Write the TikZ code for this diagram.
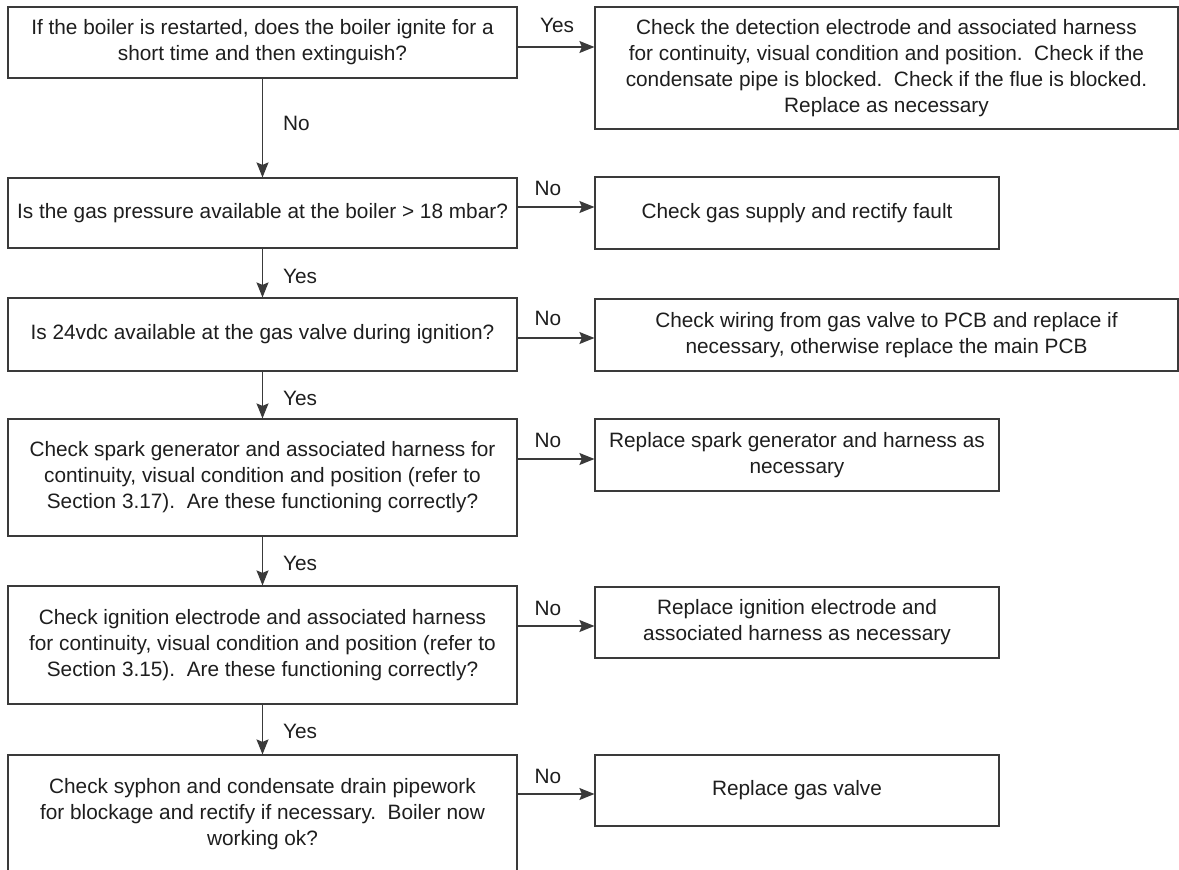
\documentclass[tikz,border=0pt]{standalone}
\usepackage{fontspec}
\setmainfont{Liberation Sans}
\usetikzlibrary{arrows.meta}
\definecolor{linec}{HTML}{3A3A3A}
\definecolor{textc}{HTML}{1E1E1E}
\begin{document}
\begin{tikzpicture}[x=1pt,y=-1pt,
  box/.style={draw=linec, line width=1.2pt, align=center, inner sep=0pt,
    font=\fontsize{20.8}{26}\selectfont, text=textc},
  lbl/.style={inner sep=0pt, font=\fontsize{20.8}{26}\selectfont, text=textc},
  arr/.style={draw=linec, line width=1.2pt, -{Stealth[length=15pt,width=12pt,inset=2.5pt]}}]
\clip (0,0) rectangle (1179,870);
\fill[white] (0,0) rectangle (1179,870);
% left column
\node[box, minimum width=509pt, minimum height=71pt] (q1) at (262.5,42.5)
  {If the boiler is restarted, does the boiler ignite for a\\short time and then extinguish?};
\node[box, minimum width=509pt, minimum height=70pt] (q2) at (262.5,213)
  {Is the gas pressure available at the boiler > 18 mbar?};
\node[box, minimum width=509pt, minimum height=73pt] (q3) at (262.5,334.5)
  {Is 24vdc available at the gas valve during ignition?};
\node[box, minimum width=509pt, minimum height=117pt] (q4) at (262.5,477.5)
  {Check spark generator and associated harness for\\continuity, visual condition and position (refer to\\Section 3.17).\ \ Are these functioning correctly?};
\node[box, minimum width=509pt, minimum height=118pt] (q5) at (262.5,645)
  {Check ignition electrode and associated harness\\for continuity, visual condition and position (refer to\\Section 3.15).\ \ Are these functioning correctly?};
\node[box, minimum width=509pt, minimum height=118pt] (q6) at (262.5,814)
  {Check syphon and condensate drain pipework\\for blockage and rectify if necessary.\ \ Boiler now\\working ok?};
% right column
\node[box, minimum width=583pt, minimum height=122pt] (r1) at (886.5,68)
  {Check the detection electrode and associated harness\\for continuity, visual condition and position.\ \ Check if the\\condensate pipe is blocked.\ \ Check if the flue is blocked.\\Replace as necessary};
\node[box, minimum width=404pt, minimum height=72pt] (r2) at (797,213)
  {Check gas supply and rectify fault};
\node[box, minimum width=583pt, minimum height=72pt] (r3) at (886.5,335)
  {Check wiring from gas valve to PCB and replace if\\necessary, otherwise replace the main PCB};
\node[box, minimum width=404pt, minimum height=72pt] (r4) at (797,455)
  {Replace spark generator and harness as\\necessary};
\node[box, minimum width=404pt, minimum height=71pt] (r5) at (797,622.5)
  {Replace ignition electrode and\\associated harness as necessary};
\node[box, minimum width=404pt, minimum height=71pt] (r6) at (797,790.5)
  {Replace gas valve};
% arrow heights
\coordinate (h1) at (0,47);
\coordinate (h2) at (0,207);
\coordinate (h3) at (0,338);
\coordinate (h4) at (0,459);
\coordinate (h5) at (0,626);
\coordinate (h6) at (0,794);
% horizontal connectors
\draw[arr] (q1.east |- h1) -- (r1.west |- h1);
\draw[arr] (q2.east |- h2) -- (r2.west |- h2);
\draw[arr] (q3.east |- h3) -- (r3.west |- h3);
\draw[arr] (q4.east |- h4) -- (r4.west |- h4);
\draw[arr] (q5.east |- h5) -- (r5.west |- h5);
\draw[arr] (q6.east |- h6) -- (r6.west |- h6);
% vertical connectors
\draw[arr] (q1.south) -- (q2.north);
\draw[arr] (q2.south) -- (q3.north);
\draw[arr] (q3.south) -- (q4.north);
\draw[arr] (q4.south) -- (q5.north);
\draw[arr] (q5.south) -- (q6.north);
% labels
\node[lbl] (lh1) at (557,25) {Yes};
\node[lbl] (lh2) at (548,188) {No};
\node[lbl] (lh3) at (548,318) {No};
\node[lbl] (lh4) at (548,440) {No};
\node[lbl] (lh5) at (548,608) {No};
\node[lbl] (lh6) at (548,776) {No};
\node[lbl, anchor=west] (lv1) at (283,123) {No};
\node[lbl, anchor=west] (lv2) at (283,276) {Yes};
\node[lbl, anchor=west] (lv3) at (283,398) {Yes};
\node[lbl, anchor=west] (lv4) at (283,563) {Yes};
\node[lbl, anchor=west] (lv5) at (283,731) {Yes};
\end{tikzpicture}
\end{document}
